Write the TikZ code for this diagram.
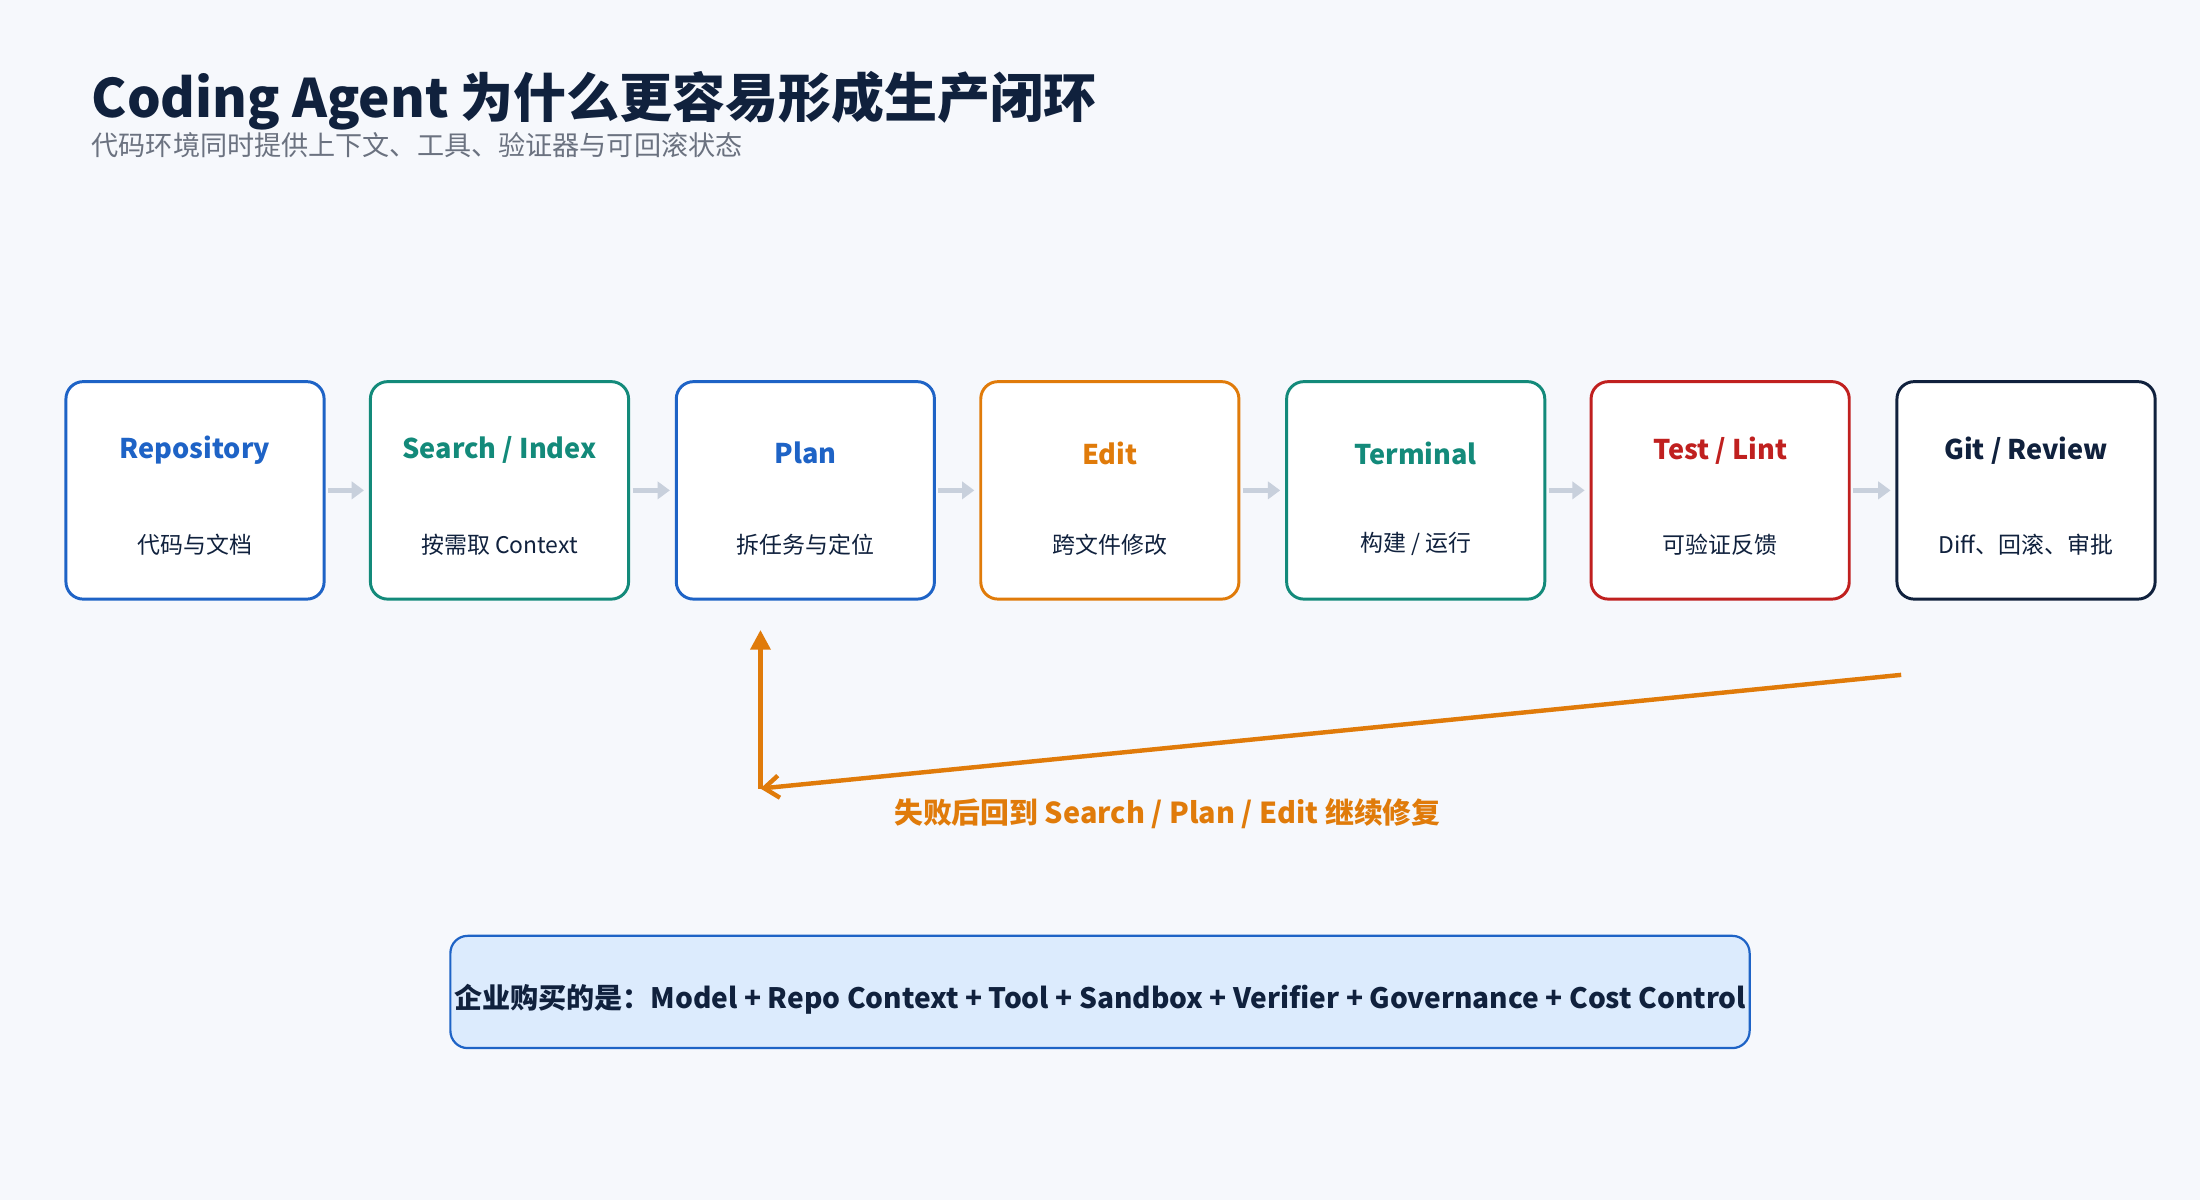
\documentclass[tikz,border=0pt]{standalone}
\usepackage{fontspec}
\setmainfont{Noto Sans CJK SC}
\usetikzlibrary{arrows.meta}
\definecolor{bg}{HTML}{F6F8FC}
\definecolor{cblue}{HTML}{1E63C6}
\definecolor{cteal}{HTML}{138A7A}
\definecolor{corange}{HTML}{E07B0A}
\definecolor{cred}{HTML}{C0201F}
\definecolor{cnavy}{HTML}{10213D}
\definecolor{cgray}{HTML}{C8D0DC}
\definecolor{csub}{HTML}{6B7280}
\definecolor{cfill}{HTML}{DCEBFD}
\begin{document}
\begin{tikzpicture}[x=0.02cm,y=-0.02cm,
  box/.style={draw=#1,line width=1.2pt,rounded corners=7pt,fill=white,minimum width=184*0.02cm,minimum height=155*0.02cm},
  head/.style={text=#1,font=\fontsize{11}{13}\selectfont\bfseries},
  sub/.style={text=cnavy,font=\fontsize{9.3}{11}\selectfont},
  link/.style={draw=cgray,line width=1.8pt,-{Triangle[length=5pt,width=7pt]}}]
\fill[bg] (0,0) rectangle (1568,855);
\useasboundingbox (0,0) rectangle (1568,855);
\node[anchor=base west,text=cnavy,font=\fontsize{21.5}{24}\selectfont\bfseries,inner sep=0] (title) at (65,84) {Coding Agent 为什么更容易形成生产闭环};
\node[anchor=base west,text=csub,font=\fontsize{11}{12}\selectfont,inner sep=0] (subtitle) at (65,111) {代码环境同时提供上下文、工具、验证器与可回滚状态};
\foreach \n/\x/\c in {b1/139/cblue,b2/356/cteal,b3/574/cblue,b4/791/corange,b5/1009/cteal,b6/1226/cred,b7/1444/cnavy}{
  \node[box=\c] (\n) at (\x,349.5) {};
}
\node[head=cblue] (b1h) at (139,321) {Repository};
\node[head=cteal] (b2h) at (356,321) {Search / Index};
\node[head=cblue] (b3h) at (574,323) {Plan};
\node[head=corange] (b4h) at (791,323) {Edit};
\node[head=cteal] (b5h) at (1009,323) {Terminal};
\node[head=cred] (b6h) at (1226,321) {Test / Lint};
\node[head=cnavy] (b7h) at (1444,321) {Git / Review};
\node[sub] (b1s) at (139,388) {代码与文档};
\node[sub] (b2s) at (356,388) {按需取 Context};
\node[sub] (b3s) at (574,388) {拆任务与定位};
\node[sub] (b4s) at (791,388) {跨文件修改};
\node[sub] (b5s) at (1009,388) {构建 / 运行};
\node[sub] (b6s) at (1226,388) {可验证反馈};
\node[sub] (b7s) at (1444,388) {Diff、回滚、审批};
\foreach \a/\b in {b1/b2,b2/b3,b3/b4,b4/b5,b5/b6,b6/b7}{
  \draw[link] ([xshift=1pt]\a.east) -- ([xshift=-2pt]\b.west);
}
\coordinate (fs) at (1355,481);
\coordinate (fc) at (542,562);
\coordinate (fe) at (542,449);
\draw[corange,line width=1.8pt,-{Straight Barb[length=6pt,width=9pt]}] (fs) -- (fc);
\draw[corange,line width=1.8pt,-{Triangle[length=8pt,width=8pt]}] (fc) -- (fe);
\node[text=corange,font=\fontsize{11.7}{14}\selectfont\bfseries] (fl) at (832,580) {失败后回到 Search / Plan / Edit 继续修复};
\node[draw=cblue,fill=cfill,line width=0.9pt,rounded corners=7pt,minimum width=926*0.02cm,minimum height=80*0.02cm] (bot) at (784,707) {};
\node[text=cnavy,font=\fontsize{11.4}{14}\selectfont\bfseries] (botl) at (784,712) {企业购买的是：Model + Repo Context + Tool + Sandbox + Verifier + Governance + Cost Control};
\end{tikzpicture}
\end{document}
